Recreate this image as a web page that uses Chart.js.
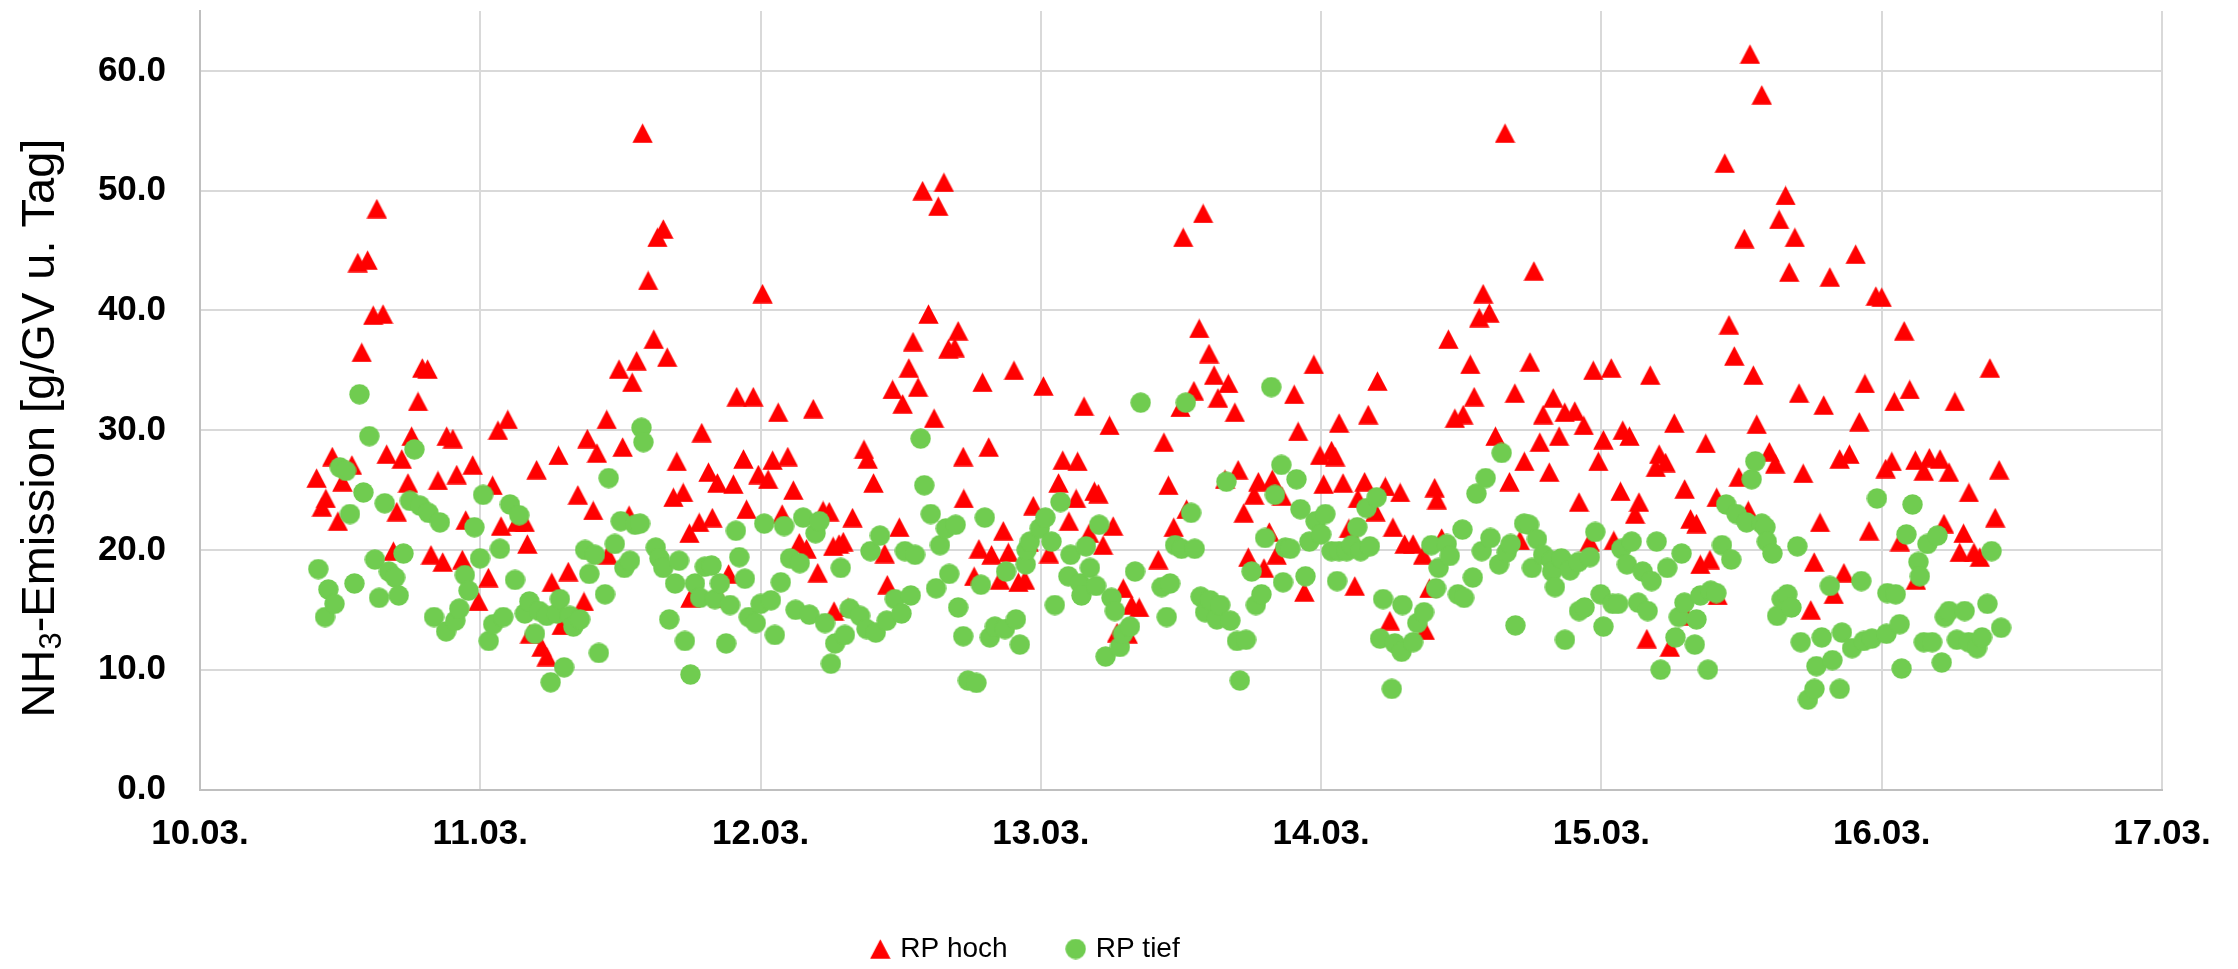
<!DOCTYPE html>
<html>
<head>
<meta charset="utf-8">
<script src="https://cdn.jsdelivr.net/npm/chart.js@4.4.1/dist/chart.umd.min.js"></script>
<style>
html,body{margin:0;padding:0;background:#ffffff;}
#wrap{width:2238px;height:969px;position:relative;background:#ffffff;}
</style>
</head>
<body>
<div id="wrap"><canvas id="c" width="2238" height="969"></canvas></div>
<script>
// ---------- data ----------
const dayTicks = [10, 11, 12, 13, 14, 15, 16, 17];
const dayLabels = ['10.03.', '11.03.', '12.03.', '13.03.', '14.03.', '15.03.', '16.03.', '17.03.'];
const yTicks = [0, 10, 20, 30, 40, 50, 60];
const seriesNames = ['RP hoch', 'RP tief'];
const yTitleParts = ['NH', '3', '-Emission [g/GV u. Tag]'];

const hochX = [10.416,10.435,10.449,10.472,10.492,10.508,10.542,10.563,10.577,10.598,10.618,10.631,10.653,10.666,10.690,10.702,10.720,10.742,10.755,10.778,10.793,10.812,10.824,10.849,10.866,10.880,10.902,10.916,10.936,10.948,10.973,10.993,
11.029,11.044,11.063,11.074,11.098,11.129,11.159,11.168,11.177,11.201,11.219,11.237,11.255,11.279,11.290,11.314,11.348,11.370,11.382,11.403,11.416,11.451,11.455,11.495,11.508,11.531,11.542,11.558,11.579,
11.599,11.619,11.632,11.653,11.667,11.689,11.701,11.724,11.746,11.750,11.781,11.790,11.814,11.828,11.846,11.855,11.886,11.903,11.915,11.939,11.950,11.974,11.992,12.007,12.027,12.043,12.063,12.077,12.097,12.117,
12.138,12.164,12.188,12.204,12.223,12.245,12.259,12.262,12.280,12.295,12.312,12.328,12.369,12.382,12.403,12.443,12.452,12.471,12.495,12.507,12.529,12.544,12.562,12.578,12.599,12.619,12.634,12.654,12.670,12.693,12.705,12.723,12.725,
12.762,12.779,12.792,12.814,12.824,12.854,12.866,12.884,12.904,12.920,12.943,12.956,12.973,13.009,13.029,13.063,13.078,13.100,13.126,13.131,13.154,13.172,13.191,13.205,13.222,13.245,13.258,13.272,
13.294,13.310,13.324,13.351,13.419,13.439,13.455,13.474,13.498,13.508,13.520,13.546,13.565,13.579,13.600,13.618,13.632,13.657,13.669,13.692,13.704,13.724,13.740,13.761,13.776,13.796,13.815,13.826,13.841,13.860,
13.904,13.918,13.940,13.974,13.996,14.009,14.037,14.050,14.064,14.078,14.099,14.120,14.131,14.155,14.168,14.194,14.201,14.229,14.245,14.256,14.282,14.298,14.328,14.364,14.370,14.386,14.405,14.413,
14.430,14.454,14.477,14.507,14.532,14.546,14.564,14.578,14.600,14.622,14.656,14.672,14.691,14.709,14.725,14.745,14.759,14.780,14.792,14.814,14.828,14.849,14.869,14.905,14.920,14.937,14.958,14.971,14.989,15.007,
15.035,15.044,15.068,15.076,15.100,15.120,15.134,15.162,15.174,15.194,15.206,15.229,15.244,15.260,15.297,15.305,15.318,15.339,15.353,15.372,15.387,15.411,15.415,15.440,15.455,15.474,15.490,15.510,15.524,15.530,15.542,15.554,15.572,
15.599,15.620,15.634,15.657,15.670,15.690,15.705,15.720,15.747,15.759,15.780,15.793,15.815,15.829,15.850,15.865,15.885,15.907,15.920,15.940,15.955,15.979,16.000,16.014,16.036,16.045,16.065,16.080,16.100,16.120,16.122,
16.150,16.170,16.208,16.222,16.240,16.261,16.278,16.292,16.311,16.329,16.350,16.386,16.405,16.419];

const hochY = [26.0,23.6,24.3,27.8,22.4,25.7,27.1,44.0,36.5,44.2,39.6,48.5,39.7,28.0,19.9,23.2,27.6,25.6,29.5,32.4,35.2,35.1,19.6,25.8,19.0,29.5,29.3,26.3,19.2,22.5,27.1,15.7,
17.7,25.4,30.0,22.0,30.9,22.3,22.3,20.5,13.0,26.7,11.9,11.1,17.3,27.9,13.7,18.2,24.6,15.7,29.3,23.3,28.1,30.9,19.6,35.1,28.6,22.9,34.0,35.8,54.8,
42.5,37.6,46.1,46.8,36.1,24.4,27.4,24.8,21.4,16.0,22.3,29.8,26.5,22.7,25.6,16.0,18.0,25.5,32.8,27.6,23.4,32.8,26.3,41.4,25.9,27.5,31.5,23.0,27.8,25.0,
20.6,20.1,31.8,18.1,23.3,23.2,20.3,14.9,20.5,20.7,15.2,22.7,28.4,27.6,25.6,19.7,17.1,33.4,21.9,32.2,35.2,37.4,33.6,50.0,39.7,31.0,48.7,50.7,36.8,36.9,38.3,27.8,24.3,
17.8,20.1,34.0,28.6,19.6,17.5,21.6,19.8,35.0,17.3,17.5,20.7,23.7,33.7,19.7,25.6,27.5,22.4,24.3,27.4,32.0,21.4,24.9,24.7,20.4,30.4,22.0,13.1,
16.8,13.0,15.4,15.2,19.2,29.0,25.4,21.9,31.9,46.1,23.4,33.3,38.5,48.1,36.4,34.6,32.7,25.9,33.9,31.5,26.7,23.1,19.4,24.6,25.7,18.5,21.5,25.9,19.6,24.5,
33.0,29.9,16.5,35.5,27.9,25.5,28.3,27.8,30.6,25.6,21.8,17.0,24.3,25.7,31.3,23.2,34.1,25.3,14.1,21.9,24.8,20.5,20.5,19.6,13.3,16.8,25.2,24.2,
21.0,37.6,31.0,31.3,35.5,32.8,39.4,41.4,39.8,29.5,54.8,25.7,33.1,20.8,27.4,35.7,43.3,29.0,31.3,26.5,32.7,29.5,31.5,31.6,24.0,30.4,20.7,35.0,27.4,29.2,
35.2,20.8,24.9,30.0,29.5,23.0,24.0,12.6,34.6,26.9,28.0,27.3,11.9,30.6,25.1,14.5,22.6,22.2,18.8,28.9,19.2,24.4,16.2,52.3,38.8,36.2,26.1,46.0,23.3,61.4,34.6,30.5,58.0,
28.2,27.2,47.6,49.6,43.2,46.1,33.1,26.4,15.0,19.0,22.3,32.1,42.8,16.3,27.6,18.1,28.0,44.7,30.7,33.9,21.6,41.2,41.1,26.8,27.4,32.4,20.7,38.3,33.4,27.5,17.5,
26.6,27.7,27.6,22.2,26.5,32.4,19.8,21.4,24.8,19.8,19.4,35.2,22.7,26.7];

const tiefX = [10.422,10.446,10.458,10.480,10.499,10.521,10.535,10.551,10.569,10.583,10.604,10.624,10.639,10.659,10.674,10.696,10.709,10.726,10.749,10.765,10.785,10.815,10.835,10.856,10.878,10.911,10.925,10.945,10.958,10.979,10.999,11.010,11.030,
11.046,11.070,11.082,11.106,11.124,11.139,11.159,11.175,11.195,11.210,11.237,11.251,11.273,11.284,11.299,11.320,11.332,11.356,11.374,11.389,11.409,11.423,11.445,11.458,11.480,11.501,11.514,11.534,11.552,11.570,11.575,11.582,
11.626,11.639,11.653,11.674,11.695,11.709,11.730,11.750,11.766,11.784,11.801,11.825,11.837,11.855,11.877,11.891,11.912,11.924,11.944,11.958,11.983,12.000,12.013,12.037,12.051,12.072,12.084,12.105,12.125,12.140,12.152,
12.174,12.196,12.210,12.230,12.251,12.266,12.286,12.301,12.318,12.355,12.378,12.392,12.411,12.426,12.450,12.479,12.503,12.515,12.536,12.551,12.571,12.584,12.607,12.626,12.640,12.661,12.673,12.696,12.705,12.723,12.740,12.770,
12.786,12.800,12.818,12.836,12.872,12.876,12.911,12.925,12.946,12.949,12.961,12.996,13.016,13.038,13.050,13.070,13.098,13.106,13.140,13.145,13.161,13.175,13.197,13.208,13.231,13.252,13.264,13.282,13.293,
13.318,13.336,13.356,13.431,13.449,13.461,13.479,13.502,13.517,13.536,13.549,13.570,13.586,13.604,13.628,13.640,13.662,13.676,13.700,13.710,13.732,13.752,13.767,13.787,13.800,13.822,13.835,13.858,13.864,13.872,
13.890,13.912,13.926,13.944,13.958,13.980,14.000,14.015,14.037,14.057,14.064,14.091,14.109,14.129,14.141,14.162,14.174,14.198,14.210,14.221,14.252,14.263,14.287,14.290,14.328,14.343,14.367,14.393,14.410,14.419,
14.448,14.459,14.488,14.504,14.510,14.541,14.554,14.573,14.587,14.604,14.635,14.644,14.662,14.676,14.693,14.724,14.742,14.752,14.770,14.792,14.822,14.824,14.834,14.857,14.870,14.888,14.918,14.920,14.940,14.959,14.978,14.997,15.007,
15.040,15.060,15.071,15.091,15.108,15.131,15.147,15.165,15.179,15.197,15.211,15.235,15.264,15.276,15.286,15.296,15.333,15.339,15.353,15.380,15.390,15.410,15.430,15.445,15.463,15.482,15.518,15.536,15.549,15.572,15.585,15.590,
15.610,15.627,15.643,15.663,15.678,15.699,15.711,15.737,15.760,15.767,15.786,15.815,15.824,15.850,15.858,15.894,15.927,15.936,15.965,15.983,16.017,16.020,16.050,16.064,16.071,16.088,16.110,16.131,16.136,16.150,
16.163,16.180,16.199,16.214,16.225,16.240,16.268,16.296,16.310,16.340,16.358,16.377,16.392,16.426];

const tiefY = [18.4,14.4,16.7,15.5,26.9,26.6,23.0,17.2,33.0,24.8,29.5,19.2,16.0,23.9,18.2,17.7,16.2,19.7,24.1,28.4,23.7,23.1,14.4,22.3,13.2,14.1,15.1,17.9,16.6,21.9,19.3,24.6,12.4,
13.8,20.1,14.4,23.8,17.5,22.9,14.7,15.7,13.0,14.9,14.5,8.95,14.7,15.9,10.2,14.5,13.6,14.2,20.0,18.0,19.6,11.4,16.3,26.0,20.5,22.4,18.5,19.1,22.1,22.2,30.2,29.0,
20.2,19.3,18.5,14.2,17.2,19.1,12.4,9.6,17.2,16.0,18.6,18.7,15.9,17.2,12.2,15.4,21.6,19.4,17.6,14.4,13.9,15.5,22.2,15.8,12.9,17.3,22.0,19.3,15.0,18.9,22.7,
14.6,21.4,22.4,13.9,10.5,12.2,18.5,12.9,15.1,14.5,13.4,19.9,13.1,21.2,14.1,15.9,14.7,19.9,16.2,19.6,29.3,25.4,23.0,16.8,20.4,21.8,18.0,22.1,15.2,12.8,9.1,8.9,
17.1,22.7,12.7,13.6,13.4,18.2,14.2,12.1,18.8,20.0,20.7,21.8,22.7,20.7,15.4,24.0,17.8,19.6,17.2,16.2,20.3,18.5,17.0,22.1,11.1,16.0,14.9,11.9,13.0,
13.6,18.2,32.3,16.9,14.4,17.2,20.4,20.1,32.3,23.1,20.1,16.1,14.8,15.8,14.2,15.4,25.7,14.1,12.4,9.1,12.5,18.2,15.4,16.3,21.0,33.6,24.6,27.1,17.3,20.2,
20.1,25.9,23.4,17.8,20.7,22.4,21.3,23.0,19.9,17.4,19.9,19.9,20.4,21.9,19.9,23.5,20.3,24.4,12.6,15.9,8.4,12.2,11.5,15.4,12.3,13.9,14.8,20.4,16.8,18.5,
20.5,19.5,16.3,21.7,16.0,17.7,24.7,19.9,26.0,21.0,18.8,28.1,19.8,20.5,13.7,22.2,22.1,18.5,20.9,19.6,19.1,18.2,16.9,19.3,12.5,18.3,19.0,14.9,15.2,19.4,21.5,16.3,13.6,
15.5,15.5,20.1,18.8,20.7,15.6,18.2,14.9,17.4,20.7,10.0,18.5,12.7,14.4,19.7,15.6,12.1,14.2,16.2,10.0,16.6,16.4,20.4,23.8,19.2,23.0,22.3,25.9,27.4,22.2,21.9,20.7,
19.7,14.5,15.9,16.3,15.2,20.3,12.3,7.5,8.4,10.3,12.7,17.0,10.8,8.4,13.1,11.8,17.4,12.4,12.6,24.3,13.0,16.4,16.3,13.8,10.1,21.3,23.8,19.0,17.8,12.3,
20.5,12.3,21.2,10.6,14.4,14.9,12.5,14.9,12.3,11.8,12.7,15.5,19.9,13.5];

// ---------- styling ----------
const FONT = "'Liberation Sans', Arial, Helvetica, sans-serif";
const RED = '#FF0000';
const GREEN = '#70CC50';

function makeTriangle(w, h, color) {
  const c = document.createElement('canvas');
  c.width = w; c.height = h;
  const g = c.getContext('2d');
  g.fillStyle = color;
  g.beginPath();
  g.moveTo(w / 2, 0.3);
  g.lineTo(w - 0.3, h - 0.3);
  g.lineTo(0.3, h - 0.3);
  g.closePath();
  g.fill();
  return c;
}
function makeDot(d, color) {
  const c = document.createElement('canvas');
  c.width = d; c.height = d;
  const g = c.getContext('2d');
  g.fillStyle = color;
  g.beginPath();
  g.arc(d / 2, d / 2, d / 2 - 0.3, 0, Math.PI * 2);
  g.fill();
  return c;
}
const triImg = makeTriangle(21, 20, RED);
const dotImg = makeDot(21, GREEN);

const toPoints = (xs, ys) => xs.map((x, i) => ({ x: x, y: ys[i] }));

const whiteBg = {
  id: 'whiteBg',
  beforeDraw(chart) {
    const c = chart.ctx;
    c.save(); c.fillStyle = '#ffffff'; c.fillRect(0, 0, chart.width, chart.height); c.restore();
  }
};

const yTitle = {
  id: 'yTitle',
  afterDraw(chart) {
    const c = chart.ctx;
    c.save();
    c.translate(41, 428);
    c.rotate(-Math.PI / 2);
    c.fillStyle = '#000000';
    c.textBaseline = 'middle';
    c.textAlign = 'left';
    const big = '47px ' + FONT, small = '31px ' + FONT;
    c.font = big;
    const w1 = c.measureText(yTitleParts[0]).width;
    const w3 = c.measureText(yTitleParts[2]).width;
    c.font = small;
    const w2 = c.measureText(yTitleParts[1]).width;
    let x = -(w1 + w2 + w3) / 2;
    c.font = big; c.fillText(yTitleParts[0], x, 0); x += w1;
    c.font = small; c.fillText(yTitleParts[1], x, 11); x += w2;
    c.font = big; c.fillText(yTitleParts[2], x, 0);
    c.restore();
  }
};

const legendShift = {
  id: 'legendShift',
  afterLayout(chart) {
    if (chart.legend) { chart.legend.left -= 54; chart.legend.right -= 54; }
  }
};

new Chart(document.getElementById('c'), {
  type: 'scatter',
  data: {
    datasets: [
      { label: seriesNames[0], data: toPoints(hochX, hochY), pointStyle: triImg,
        pointRadius: 10, pointHoverRadius: 10, backgroundColor: RED, borderColor: RED, order: 2 },
      { label: seriesNames[1], data: toPoints(tiefX, tiefY), pointStyle: dotImg,
        pointRadius: 10, pointHoverRadius: 10, backgroundColor: GREEN, borderColor: GREEN, order: 1 }
    ]
  },
  options: {
    responsive: false,
    animation: false,
    devicePixelRatio: 1,
    layout: { padding: { left: 0, top: 8, right: 76, bottom: -4 } },
    plugins: {
      legend: {
        position: 'bottom',
        labels: {
          usePointStyle: true, boxWidth: 12, boxHeight: 12, padding: 62,
          color: '#000000', font: { family: FONT, size: 28 },
          sort: (a, b) => a.datasetIndex - b.datasetIndex
        }
      },
      tooltip: { enabled: false }
    },
    scales: {
      x: {
        type: 'linear', min: 10, max: 17,
        afterBuildTicks: s => { s.ticks = dayTicks.map(v => ({ value: v })); },
        afterFit: s => {
          s.height = 969 + 4 - s.chart.legend.height - 789.5;
          s.paddingLeft = 0; s.paddingRight = 0;
        },
        ticks: {
          callback: v => { const i = dayTicks.indexOf(v); return i >= 0 ? dayLabels[i] : ''; },
          font: { family: FONT, size: 35, weight: 'bold' }, color: '#000000',
          padding: 24, maxRotation: 0, autoSkip: false
        },
        grid: { color: '#D9D9D9', lineWidth: 2, drawTicks: false },
        border: { color: '#BFBFBF', width: 2 }
      },
      y: {
        min: 0, max: 65,
        afterBuildTicks: s => { s.ticks = yTicks.map(v => ({ value: v })); },
        afterFit: s => { s.width = 200; s.paddingTop = 0; s.paddingBottom = 0; },
        ticks: {
          callback: v => Number(v).toFixed(1),
          font: { family: FONT, size: 35, weight: 'bold' }, color: '#000000',
          padding: 34
        },
        grid: { color: '#D9D9D9', lineWidth: 2, drawTicks: false },
        border: { color: '#BFBFBF', width: 2 }
      }
    }
  },
  plugins: [whiteBg, yTitle, legendShift]
});
</script>
</body>
</html>
